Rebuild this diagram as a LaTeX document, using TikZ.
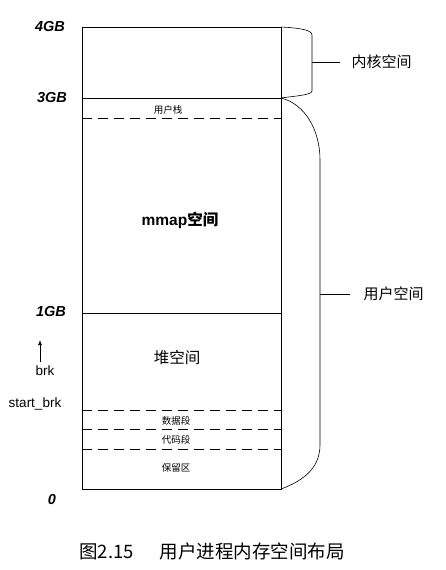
\documentclass[tikz,border=0pt]{standalone}
\usetikzlibrary{arrows.meta}
\usepackage{fontspec}
\setmainfont{Liberation Sans}
\newfontfamily\cjk{Noto Sans CJK SC}
\begin{document}
\begin{tikzpicture}[x=1pt,y=-1pt,
  solidline/.style={line width=0.8pt},
  dashline/.style={line width=0.8pt,dash pattern=on 10pt off 6pt},
  addr/.style={font=\bfseries\itshape\fontsize{14.5}{15}\selectfont},
  small/.style={font=\cjk\fontsize{9.5}{10}\selectfont},
  lbl/.style={font=\fontsize{13.5}{14}\selectfont},
  side/.style={font=\cjk\fontsize{15}{16}\selectfont,anchor=west}]
\useasboundingbox (0,0) rectangle (446,570);
% box
\draw[solidline] (82,27) rectangle (281,489);
\coordinate (tl4) at (82,27); \coordinate (tr4) at (281,27);
\coordinate (l3) at (82,98); \coordinate (r3) at (281,98);
\coordinate (l1) at (82,313); \coordinate (r1) at (281,313);
\coordinate (r0) at (281,489);
\draw[solidline] (l3) -- (r3);
\draw[solidline] (l1) -- (r1);
\draw[dashline] (82,118) -- (281,118);
\draw[dashline] (82,410) -- (281,410);
\draw[dashline] (82,429) -- (281,429);
\draw[dashline] (82,449) -- (281,449);
% texts inside
\node[small] (stk) at (168,110) {用户栈};
\node[font=\bfseries\fontsize{15.5}{16}\selectfont] (mm) at (180,220) {mmap{\cjk 空间}};
\node[font=\cjk\fontsize{15.5}{16}\selectfont] (heap) at (177,358) {堆空间};
\node[small] (data) at (176,421) {数据段};
\node[small] (code) at (176,440) {代码段};
\node[small] (res) at (176,468) {保留区};
% addresses
\node[addr] (a4) at (50,27) {4GB};
\node[addr] (a3) at (52,98) {3GB};
\node[addr] (a1) at (51,312) {1GB};
\node[addr] (a0) at (52,500) {0};
\node[lbl] (brk) at (45,371) {brk};
\node[lbl] (sbrk) at (35,404) {start\_brk};
\coordinate (arrtop) at (40,340);
\draw[-{Latex[length=5pt,width=4pt]},line width=0.7pt] (40,362) -- (arrtop);
% kernel brace
\draw[line width=0.6pt] (tr4) .. controls (300,28) and (312,30) .. (312,35) -- (312,91) .. controls (312,95) and (295,96) .. (r3);
\coordinate (kt) at (312,62);
\node[side] (kern) at (348,62) {内核空间};
\draw[line width=0.6pt] (kt) -- (340,62);
% user brace
\draw[line width=0.6pt] (r3) .. controls (305,104) and (320,130) .. (320,160) -- (320,445) .. controls (320,470) and (300,482) .. (r0);
\coordinate (ut) at (320,294);
\node[side] (user) at (360,294) {用户空间};
\draw[line width=0.6pt] (ut) -- (350,294);
% caption
\node[font=\cjk\fontsize{18.5}{19}\selectfont] (cap) at (212,551) {图2.15\hspace{1.4em}用户进程内存空间布局};
\end{tikzpicture}
\end{document}
